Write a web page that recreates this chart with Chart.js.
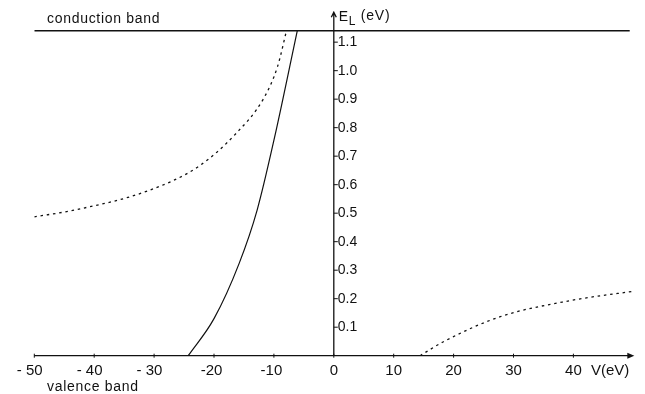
<!DOCTYPE html>
<html>
<head>
<meta charset="utf-8">
<script src="https://cdn.jsdelivr.net/npm/chart.js@4/dist/chart.umd.min.js"></script>
<style>
  html, body { margin: 0; padding: 0; background: #fff; }
  #wrap { width: 645px; height: 394px; }
</style>
</head>
<body>
<div id="wrap"><canvas id="chart" width="645" height="394"></canvas></div>
<script>
// values (V in eV, E_L in eV)
const bandV = [-50, 49.4];
const bandE = [1.14, 1.14];

const solidV = [-24.3, -20, -15.8, -12.8, -9.9, -6.1];
const solidE = [0, 0.13, 0.324, 0.511, 0.765, 1.14];

const leftV = [-50, -43.3, -31.1, -22.5, -16.4, -11.7, -9.4, -7.9];
const leftE = [0.487, 0.511, 0.578, 0.665, 0.778, 0.903, 1.014, 1.14];

const rightV = [14.4, 18.3, 27.8, 39.4, 50.3];
const rightE = [0, 0.049, 0.137, 0.193, 0.227];

const xTicks = [-50, -40, -30, -20, -10, 0, 10, 20, 30, 40];
const xTickLabels = ['- 50', '- 40', '- 30', '-20', '-10', '0', '10', '20', '30', '40'];
const yTicks = [0.1, 0.2, 0.3, 0.4, 0.5, 0.6, 0.7, 0.8, 0.9, 1.0, 1.1];
const yTickLabels = ['0.1', '0.2', '0.3', '0.4', '0.5', '0.6', '0.7', '0.8', '0.9', '1.0', '1.1'];

const pts = (xs, ys) => xs.map((x, i) => ({ x: x, y: ys[i] }));
const INK = '#111';
const FONT = '"Liberation Sans", Arial, sans-serif';

const axesPlugin = {
  id: 'axesPlugin',
  afterDatasetsDraw(chart) {
    const ctx = chart.ctx;
    const xs = chart.scales.x;
    const ys = chart.scales.y;
    const x0 = xs.getPixelForValue(0);
    const y0 = ys.getPixelForValue(0);
    const xEnd = xs.getPixelForValue(50);
    const yTop = ys.getPixelForValue(1.205);
    ctx.save();
    ctx.strokeStyle = INK;
    ctx.fillStyle = INK;
    ctx.lineWidth = 1.3;

    // x axis (valence band edge) with filled arrow
    ctx.beginPath();
    ctx.moveTo(xs.getPixelForValue(-50), y0);
    ctx.lineTo(xEnd - 4, y0);
    ctx.stroke();
    ctx.beginPath();
    ctx.moveTo(xEnd + 1, y0);
    ctx.lineTo(xEnd - 6, y0 - 3);
    ctx.lineTo(xEnd - 6, y0 + 3);
    ctx.closePath();
    ctx.fill();

    // y axis with open arrow
    ctx.beginPath();
    ctx.moveTo(x0, y0);
    ctx.lineTo(x0, yTop);
    ctx.moveTo(x0 - 2.5, yTop + 5);
    ctx.lineTo(x0, yTop);
    ctx.lineTo(x0 + 2.5, yTop + 5);
    ctx.stroke();

    // x ticks + labels
    ctx.lineWidth = 1;
    ctx.font = '15px ' + FONT;
    ctx.textBaseline = 'middle';
    ctx.textAlign = 'right';
    xTicks.forEach((v, i) => {
      const px = xs.getPixelForValue(v);
      ctx.beginPath();
      ctx.moveTo(px, y0 - 2);
      ctx.lineTo(px, y0 + 2);
      ctx.stroke();
      const digits = xTickLabels[i].replace(/[-\s]/g, '');
      const w = ctx.measureText(digits).width;
      ctx.fillText(xTickLabels[i], px + w / 2, y0 + 15);
    });
    ctx.textAlign = 'left';
    ctx.fillText('V(eV)', 591, y0 + 15);

    // y ticks + labels (to the right of the axis)
    ctx.font = '14px ' + FONT;
    yTicks.forEach((v, i) => {
      const py = ys.getPixelForValue(v);
      ctx.beginPath();
      ctx.moveTo(x0, py);
      ctx.lineTo(x0 + 4, py);
      ctx.stroke();
      ctx.fillText(yTickLabels[i], x0 + 4, py);
    });

    // axis title E_L (eV)
    ctx.font = '14px ' + FONT;
    ctx.fillText('E', x0 + 5, 17);
    ctx.font = '12px ' + FONT;
    ctx.fillText('L', x0 + 15, 22);
    ctx.font = '14px ' + FONT;
    ctx.letterSpacing = '0.8px';
    ctx.fillText('(eV)', x0 + 27, 16);

    // band labels
    ctx.letterSpacing = '0.7px';
    ctx.fillText('conduction band', 47, 19);
    ctx.fillText('valence band', 47, 387);
    ctx.restore();
  }
};

new Chart(document.getElementById('chart'), {
  type: 'scatter',
  data: {
    datasets: [
      { data: pts(bandV, bandE), showLine: true, borderColor: INK, borderWidth: 1.4, pointRadius: 0 },
      { data: pts(solidV, solidE), showLine: true, borderColor: INK, borderWidth: 1.2, pointRadius: 0,
        cubicInterpolationMode: 'monotone' },
      { data: pts(leftV, leftE), showLine: true, borderColor: INK, borderWidth: 1.3, pointRadius: 0,
        borderDash: [2.5, 3.8], cubicInterpolationMode: 'monotone' },
      { data: pts(rightV, rightE), showLine: true, borderColor: INK, borderWidth: 1.3, pointRadius: 0,
        borderDash: [2.5, 3.8], cubicInterpolationMode: 'monotone' }
    ]
  },
  options: {
    responsive: false,
    animation: false,
    events: [],
    layout: { padding: { left: 34.3, right: 8.7, top: 10.8, bottom: 38.3 } },
    plugins: { legend: { display: false }, tooltip: { enabled: false } },
    scales: {
      x: { type: 'linear', min: -50, max: 50.5, display: false },
      y: { type: 'linear', min: 0, max: 1.21, display: false }
    }
  },
  plugins: [axesPlugin]
});
</script>
</body>
</html>
